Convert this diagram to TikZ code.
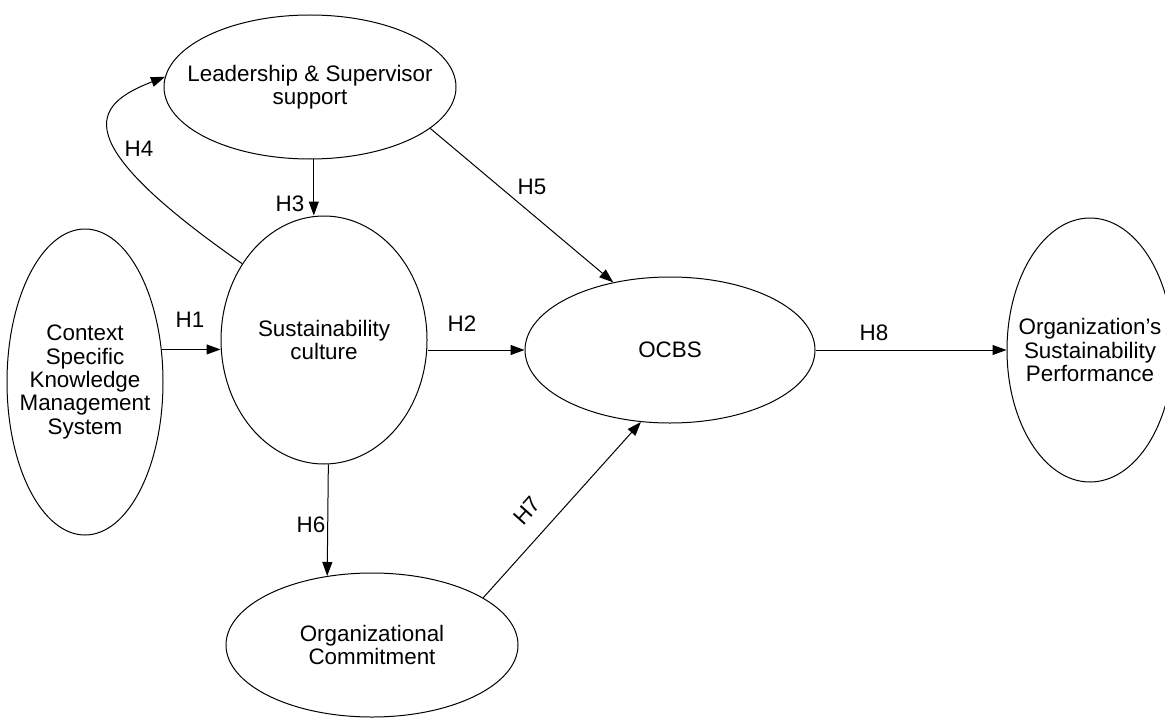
\documentclass[tikz,border=0pt]{standalone}
\usepackage{fontspec}
\setmainfont{Liberation Sans}
\usetikzlibrary{arrows.meta}
\usetikzlibrary{shapes.geometric}

\begin{document}
\begin{tikzpicture}[x=0.5pt,y=-0.5pt,
	every node/.style={font=\fontsize{11.2}{11.7}\selectfont},
	oval/.style={draw,ellipse,inner sep=0pt,line width=0.5pt},
	txt/.style={align=center,inner sep=0pt},
	hyp/.style={inner sep=0pt},
	arr/.style={-{Triangle[length=7pt,width=5pt]},line width=0.5pt}]
	\useasboundingbox (0,0) rectangle (1165,717);

	\node[oval,minimum width=146pt,minimum height=72pt,label={[txt]center:Leadership \& Supervisor\\support}] (lead) at (310,87) {};
	\node[oval,minimum width=78pt,minimum height=153pt,label={[txt]center:Context\\Specific\\Knowledge\\Management\\System}] (kms) at (85,382) {};
	\node[oval,minimum width=103pt,minimum height=124pt,label={[txt]center:Sustainability\\culture}] (sust) at (324,340) {};
	\node[oval,minimum width=145pt,minimum height=73pt,label={[txt]center:OCBS}] (ocbs) at (670,350) {};
	\node[oval,minimum width=83pt,minimum height=132pt,label={[txt]center:Organization's\\Sustainability\\Performance}] (osp) at (1090,350) {};
	\node[oval,minimum width=146pt,minimum height=72pt,label={[txt]center:Organizational\\Commitment}] (oc) at (372,645) {};

	\draw[arr] (kms.23) -- (kms.23 -| sust.west);
	\draw[arr] (ocbs.west -| sust.east) -- (ocbs.west);
	\draw[arr] (lead.-87) -- (lead.-87 |- sust.north);
	\draw[arr] (sust.137) .. controls (65,140) and (92,105) .. (lead.176);
	\draw[arr] (lead.-19) -- (ocbs.130);
	\draw[arr] (sust.-88) -- (oc.123);
	\draw[arr] (oc.23) -- (ocbs.-112);
	\draw[arr] (ocbs.east) -- (osp.west);

	\node[hyp] (h1) at (190,320) {H1};
	\node[hyp] (h2) at (462,324) {H2};
	\node[hyp] (h3) at (290,204) {H3};
	\node[hyp] (h4) at (139,149) {H4};
	\node[hyp] (h5) at (532,187) {H5};
	\node[hyp] (h6) at (311,525) {H6};
	\node[hyp,rotate=48] (h7) at (527,511) {H7};
	\node[hyp] (h8) at (874,333) {H8};
\end{tikzpicture}
\end{document}
